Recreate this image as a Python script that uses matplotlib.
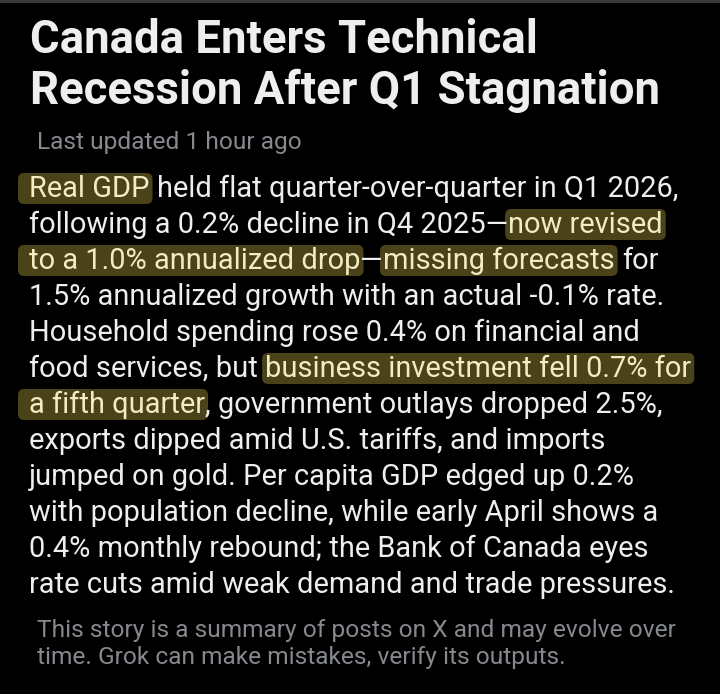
import matplotlib
matplotlib.use("Agg")
import matplotlib.pyplot as plt
from matplotlib.patches import FancyBboxPatch, Rectangle

# ---- content ----
TITLE_LINES = ["Canada Enters Technical", "Recession After Q1 Stagnation"]
UPDATED = "Last updated 1 hour ago"
BODY_LINES = [
    "Real GDP held flat quarter-over-quarter in Q1 2026,",
    "following a 0.2% decline in Q4 2025\u2014now revised",
    "to a 1.0% annualized drop\u2014missing forecasts for",
    "1.5% annualized growth with an actual -0.1% rate.",
    "Household spending rose 0.4% on financial and",
    "food services, but business investment fell 0.7% for",
    "a fifth quarter, government outlays dropped 2.5%,",
    "exports dipped amid U.S. tariffs, and imports",
    "jumped on gold. Per capita GDP edged up 0.2%",
    "with population decline, while early April shows a",
    "0.4% monthly rebound; the Bank of Canada eyes",
    "rate cuts amid weak demand and trade pressures.",
]
HIGHLIGHTS = [
    (0, "Real GDP"),
    (1, "now revised"),
    (2, "to a 1.0% annualized drop"),
    (2, "missing forecasts"),
    (5, "business investment fell 0.7% for"),
    (6, "a fifth quarter"),
]
FOOTER_LINES = [
    "This story is a summary of posts on X and may evolve over",
    "time. Grok can make mistakes, verify its outputs.",
]

# right edges of lines in the reference (used to size the fonts)
TITLE_RIGHT = [535, 660]
BODY_RIGHT = [690, 662, 648, 657, 636, 685, 660, 603, 630, 655, 651, 665]
FOOTER_RIGHT = [672, 566]

FONT = ["Roboto", "DejaVu Sans"]
BG = "#000000"
TEXT = "#eceef0"
GREY = "#85888d"
HL_BOX = "#4a431a"
HL_TEXT = "#f2ebc3"

W, H = 720, 694
fig = plt.figure(figsize=(W / 100, H / 100), dpi=100)
fig.patch.set_facecolor(BG)
ax = fig.add_axes([0, 0, 1, 1])
ax.set_xlim(0, W)
ax.set_ylim(H, 0)
ax.axis("off")
renderer = fig.canvas.get_renderer()


def width(s, size, weight="normal"):
    t = ax.text(0, 0, s, fontsize=size, family=FONT, weight=weight)
    w = t.get_window_extent(renderer).width
    t.remove()
    return w


def fit(lines, rights, x0, weight="normal"):
    base = 20
    measured = sum(width(s, base, weight) for s in lines)
    target = sum(r - x0 for r in rights)
    return base * target / measured


def offset(prefix, size):
    if not prefix:
        return 0.0
    return width(prefix + "x", size) - width("x", size)


# top strip
ax.add_patch(Rectangle((0, 0), W, 3, color="#3a3a3c", lw=0))

# title
title_x = 30
title_size = fit(TITLE_LINES, TITLE_RIGHT, title_x, "bold")
for i, line in enumerate(TITLE_LINES):
    ax.text(title_x, 53 + 51 * i, line, fontsize=title_size, family=FONT,
            weight="bold", color=TEXT, va="baseline")

# last updated
small_x = 37
small_size = fit(FOOTER_LINES, FOOTER_RIGHT, small_x)
ax.text(small_x, 149, UPDATED, fontsize=small_size, family=FONT,
        color=GREY, va="baseline")

# body
body_x = 29
body_size = fit(BODY_LINES, BODY_RIGHT, body_x)
for i, line in enumerate(BODY_LINES):
    base = 197 + 36 * i
    spans = sorted((line.index(p), line.index(p) + len(p))
                   for j, p in HIGHLIGHTS if j == i)
    segs = []
    pos = 0
    for a, b in spans:
        if a > pos:
            segs.append((pos, a, False))
        segs.append((a, b, True))
        pos = b
    if pos < len(line):
        segs.append((pos, len(line), False))

    for a, b, hl in segs:
        chunk = line[a:b]
        lead = len(chunk) - len(chunk.lstrip())
        text = chunk.strip()
        if not text:
            continue
        x = body_x + offset(line[:a + lead], body_size)
        if hl:
            w = width(text, body_size)
            left = x - 3 if a > 0 else 18
            ax.add_patch(FancyBboxPatch(
                (left, base - 24), x + w + 3 - left, 31,
                boxstyle="round,pad=0,rounding_size=6",
                facecolor=HL_BOX, edgecolor="none", zorder=1))
        ax.text(x, base, text, fontsize=body_size, family=FONT,
                color=HL_TEXT if hl else TEXT, va="baseline", zorder=2)

# footer
for i, line in enumerate(FOOTER_LINES):
    ax.text(small_x, 637 + 27 * i, line, fontsize=small_size, family=FONT,
            color=GREY, va="baseline")

fig.savefig("out.png", dpi=100, facecolor=BG)
